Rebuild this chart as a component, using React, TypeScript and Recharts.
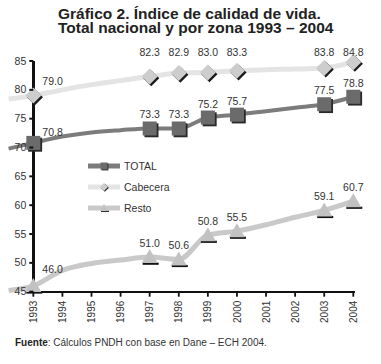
import { LineChart, Line, XAxis, YAxis, Legend } from "recharts";

// first entry is the left stub of each curve, drawn before the 1993 axis
const years = [1992.15, 1993, 1994, 1995, 1996, 1997, 1998, 1999, 2000, 2001, 2002, 2003, 2004];
const cabecera = [78.4, 79.0, 80.0, 80.9, 81.6, 82.3, 82.9, 83.0, 83.3, 83.5, 83.6, 83.8, 84.8];
const total = [69.8, 70.8, 71.9, 72.6, 73.0, 73.3, 73.3, 75.2, 75.7, 76.3, 76.9, 77.5, 78.8];
const resto = [45.2, 46.0, 48.7, 49.9, 50.5, 51.0, 50.6, 54.8, 55.5, 56.6, 57.9, 59.1, 60.7];

const markedYears = [1993, 1997, 1998, 1999, 2000, 2003, 2004];
const cabeceraLabels = ["79.0", "82.3", "82.9", "83.0", "83.3", "83.8", "84.8"];
const totalLabels = ["70.8", "73.3", "73.3", "75.2", "75.7", "77.5", "78.8"];
const restoLabels = ["46.0", "51.0", "50.6", "50.8", "55.5", "59.1", "60.7"];

const xTicks = [1993, 1994, 1995, 1996, 1997, 1998, 1999, 2000, 2001, 2002, 2003, 2004];
const yTicks = [45, 50, 55, 60, 65, 70, 75, 80, 85];

const data = years.map((year, i) => ({
  year,
  cabecera: cabecera[i],
  total: total[i],
  resto: resto[i],
}));

const FONT = '"Liberation Sans", Arial, Helvetica, sans-serif';
const AXIS_DX = 24.7; // plot left edge -> 1993 axis
const LABEL_ROW_Y = 56;

const COLORS = {
  cabLine: "#e4e4e4",
  cabMark: "#cdcdcd",
  totLine: "#7c7c7c",
  totMark: "#6b6b6b",
  resLine: "#c9c9c9",
  resMark: "#c2c2c2",
};

function Shape({ shape, cx, cy, s = 1 }: any) {
  if (shape === "square") {
    const h = 7 * s;
    return (
      <g>
        <rect x={cx - h + 1.8 * s} y={cy - h + 1.8 * s} width={h * 2} height={h * 2} fill="#2a2a2a" />
        <rect x={cx - h} y={cy - h} width={h * 2} height={h * 2} fill={COLORS.totMark} />
      </g>
    );
  }
  if (shape === "diamond") {
    const r = 8 * s;
    const pts = (dx: number, dy: number) =>
      `${cx + dx},${cy - r + dy} ${cx + r + dx},${cy + dy} ${cx + dx},${cy + r + dy} ${cx - r + dx},${cy + dy}`;
    return (
      <g>
        <polygon points={pts(1.6 * s, 1.6 * s)} fill="#1a1a1a" />
        <polygon points={pts(0, 0)} fill={COLORS.cabMark} />
      </g>
    );
  }
  const w = 8 * s;
  return (
    <g>
      <rect x={cx - w + 1} y={cy + 5.5 * s} width={w * 2} height={2.2 * s} fill="#111" />
      <polygon
        points={`${cx},${cy - 8 * s} ${cx + w},${cy + 6 * s} ${cx - w},${cy + 6 * s}`}
        fill={COLORS.resMark}
      />
    </g>
  );
}

function Marker(props: any) {
  const { cx, cy, payload, shape, labels, firstDy, rowY, index } = props;
  const i = markedYears.indexOf(payload?.year);
  if (i < 0 || cx == null || cy == null) return <g key={index} />;
  const first = i === 0;
  return (
    <g key={index}>
      <Shape shape={shape} cx={cx} cy={cy} />
      <text
        x={first ? cx + 9 : cx}
        y={first ? cy + firstDy : rowY ?? cy - 10}
        textAnchor={first ? "start" : "middle"}
        fontSize={10.5}
        fontFamily={FONT}
        fill="#333"
      >
        {labels[i]}
      </text>
    </g>
  );
}

function YTick({ x, y, payload }: any) {
  const ax = x + AXIS_DX;
  return (
    <g>
      <rect x={ax - 4} y={y - 1} width={4} height={2} fill="#111" />
      <text x={ax - 7} y={y} dy={3.6} textAnchor="end" fontSize={10.5} fontFamily={FONT} fill="#333">
        {payload.value}
      </text>
    </g>
  );
}

function XTick({ x, y, payload }: any) {
  return (
    <g>
      <rect x={x - 0.9} y={y} width={1.8} height={5} fill="#111" />
      <text
        transform={`translate(${x + 3.6},${y + 9}) rotate(-90)`}
        textAnchor="end"
        fontSize={10}
        fontFamily={FONT}
        fill="#333"
      >
        {payload.value}
      </text>
    </g>
  );
}

const legendItems = [
  { name: "TOTAL", shape: "square", color: COLORS.totLine },
  { name: "Cabecera", shape: "diamond", color: COLORS.cabLine },
  { name: "Resto", shape: "triangle", color: COLORS.resLine },
];

function LegendBox() {
  return (
    <svg width={110} height={70}>
      {legendItems.map((it, i) => {
        const y = 8 + i * 21;
        return (
          <g key={it.name}>
            <line x1={0} x2={32} y1={y} y2={y} stroke={it.color} strokeWidth={5} />
            <Shape shape={it.shape} cx={16} cy={y} s={0.5} />
            <text x={36} y={y} dy={3.8} fontSize={10.5} fontFamily={FONT} fill="#333">
              {it.name}
            </text>
          </g>
        );
      })}
    </svg>
  );
}

export default function App() {
  return (
    <div
      style={{
        position: "absolute",
        left: 0,
        top: 0,
        width: 381,
        height: 364,
        background: "#fff",
        fontFamily: FONT,
      }}
    >
      <div
        style={{
          position: "absolute",
          left: 58,
          top: 7,
          fontSize: 15.5,
          fontWeight: "bold",
          lineHeight: "14px",
          color: "#222",
          whiteSpace: "nowrap",
        }}
      >
        Gráfico 2. Índice de calidad de vida.
        <br />
        Total nacional y por zona 1993 – 2004
      </div>
      {/* axis frame: vertical at 1993, horizontal at 45 */}
      <div style={{ position: "absolute", left: 32, top: 61, width: 2.6, height: 232, background: "#111" }} />
      <div style={{ position: "absolute", left: 32, top: 290.5, width: 322.5, height: 2.6, background: "#111" }} />
      <div style={{ position: "absolute", left: 0, top: 0 }}>
        <LineChart
          width={381}
          height={364}
          data={data}
          margin={{ top: 61, right: 27.7, bottom: 32.3, left: 0 }}
        >
          <XAxis
            type="number"
            dataKey="year"
            domain={[1992.15, 2004]}
            ticks={xTicks}
            interval={0}
            axisLine={false}
            tickLine={false}
            tickSize={0}
            tickMargin={0}
            height={40}
            tick={<XTick />}
          />
          <YAxis
            type="number"
            domain={[45, 85]}
            ticks={yTicks}
            interval={0}
            width={8.6}
            axisLine={false}
            tickLine={false}
            tickSize={0}
            tickMargin={0}
            tick={<YTick />}
          />
          <Legend
            layout="vertical"
            align="center"
            verticalAlign="middle"
            wrapperStyle={{ left: 88, top: 158, width: 110 }}
            content={<LegendBox />}
          />
          <Line
            type="monotone"
            dataKey="cabecera"
            stroke={COLORS.cabLine}
            strokeWidth={5}
            isAnimationActive={false}
            activeDot={false}
            dot={(p: any) => (
              <Marker key={p.index} {...p} shape="diamond" labels={cabeceraLabels} firstDy={-11} rowY={LABEL_ROW_Y} />
            )}
          />
          <Line
            type="monotone"
            dataKey="total"
            stroke={COLORS.totLine}
            strokeWidth={4}
            isAnimationActive={false}
            activeDot={false}
            dot={(p: any) => (
              <Marker key={p.index} {...p} shape="square" labels={totalLabels} firstDy={-6.5} />
            )}
          />
          <Line
            type="monotone"
            dataKey="resto"
            stroke={COLORS.resLine}
            strokeWidth={5}
            isAnimationActive={false}
            activeDot={false}
            dot={(p: any) => (
              <Marker key={p.index} {...p} shape="triangle" labels={restoLabels} firstDy={-12.5} />
            )}
          />
        </LineChart>
      </div>
      <div
        style={{
          position: "absolute",
          left: 15,
          top: 336.5,
          fontSize: 10,
          lineHeight: "12px",
          color: "#333",
          whiteSpace: "nowrap",
        }}
      >
        <b style={{ color: "#222" }}>Fuente</b>: Cálculos PNDH con base en Dane – ECH 2004.
      </div>
    </div>
  );
}
